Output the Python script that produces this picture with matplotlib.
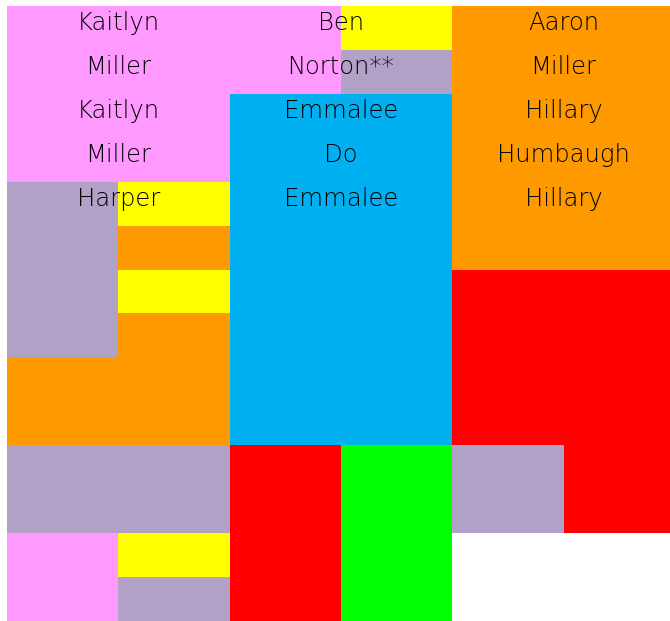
import matplotlib
matplotlib.use("Agg")
import matplotlib.pyplot as plt
from matplotlib.colors import ListedColormap
import numpy as np

# colour codes: W white, P pink, Y yellow, L lavender, O orange, B blue, R red, G green
palette = {"W": "#FFFFFF", "P": "#FF99FF", "Y": "#FFFF00", "L": "#B2A1C7",
           "O": "#FF9900", "B": "#00B0F0", "R": "#FF0000", "G": "#00FF00"}

grid_rows = [
    "PPPYOO",
    "PPPLOO",
    "PPBBOO",
    "PPBBOO",
    "LYBBOO",
    "LOBBOO",
    "LYBBRR",
    "LOBBRR",
    "OOBBRR",
    "OOBBRR",
    "LLRGLR",
    "LLRGLR",
    "PYRGWW",
    "PLRGWW",
]

left_names = ["Kaitlyn", "Miller", "Kaitlyn", "Miller", "Harper"]
mid_names = ["Ben", "Norton**", "Emmalee", "Do", "Emmalee"]
right_names = ["Aaron", "Miller", "Hillary", "Humbaugh", "Hillary"]

keys = list(palette.keys())
cmap = ListedColormap([palette[k] for k in keys])
codes = np.array([[keys.index(c) for c in row] for row in grid_rows])

fig = plt.figure(figsize=(6.7, 6.21), dpi=100)
# grid is slightly wider than the canvas, right column gets cut off
ax = fig.add_axes([7 / 670, 0, 667.8 / 670, 615 / 621])
ax.pcolormesh(np.arange(codes.shape[1] + 1), np.arange(codes.shape[0] + 1), codes,
              cmap=cmap, vmin=-0.5, vmax=len(keys) - 0.5)
ax.set_xlim(0, codes.shape[1])
ax.set_ylim(codes.shape[0], 0)
ax.axis("off")

for col, names in enumerate([left_names, mid_names, right_names]):
    for r, name in enumerate(names):
        ax.text(2 * col + 1, r + 0.55, name, ha="center", va="baseline",
                fontsize=17.5, color="#000000", family="DejaVu Sans",
                fontweight="light")

fig.savefig("out.png", dpi=100)
